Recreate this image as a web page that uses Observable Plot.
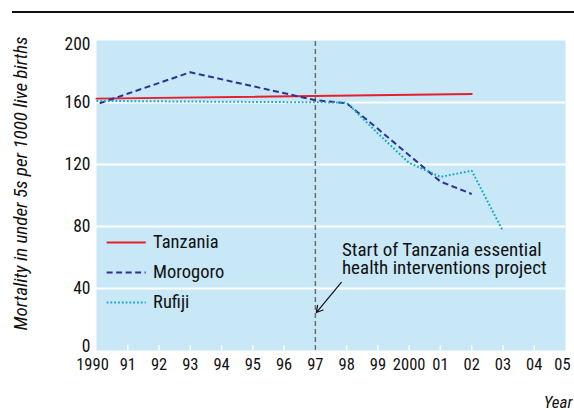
<!DOCTYPE html>
<html>
<head>
<meta charset="utf-8">
<script src="https://cdn.jsdelivr.net/npm/d3@7"></script>
<script src="https://cdn.jsdelivr.net/npm/@observablehq/plot@0.6"></script>
<style>
  html, body { margin: 0; padding: 0; background: #fff; }
  #wrap { position: relative; width: 574px; height: 410px; }
  #topline { position: absolute; left: 12px; top: 11px; width: 562px; height: 1.5px; background: #111; }
  svg, svg text { font-family: "Roboto Condensed", Roboto, sans-serif; font-stretch: condensed; }
</style>
</head>
<body>
<div id="wrap"><div id="topline"></div></div>
<script>
// Tick positions and labels
const years = [1990,1991,1992,1993,1994,1995,1996,1997,1998,1999,2000,2001,2002,2003,2004,2005];
const yearLabels = ["1990","91","92","93","94","95","96","97","98","99","2000","01","02","03","04","05"];
const yTicks = [0, 40, 80, 120, 160, 200];

// Series
const tanzaniaYears = [1990, 2002];
const tanzaniaValues = [162.5, 165.5];
const morogoroYears = [1990.1, 1993, 1997, 1998, 1999, 2000, 2001, 2002];
const morogoroValues = [159.5, 179.5, 161.5, 159.5, 143, 126, 109, 101];
const rufijiYears = [1990, 1998, 1999, 2000, 2001, 2002, 2003];
const rufijiValues = [161, 160, 140, 121, 112, 116, 77];

const projectStart = 1997;
const annotationText = "Start of Tanzania essential\nhealth interventions project";

const seriesNames = ["Tanzania", "Morogoro", "Rufiji"];
const seriesColors = ["#e4202c", "#2e3192", "#17a8c4"];
const seriesDash = [null, "6,3.5", "1.8,2"];

const toRows = (xs, vs) => xs.map((x, i) => ({x, v: vs[i]}));
const tanzania = toRows(tanzaniaYears, tanzaniaValues);
const morogoro = toRows(morogoroYears, morogoroValues);
const rufiji = toRows(rufijiYears, rufijiValues);

// legend rows (placed in data space inside the frame)
const legendY = [69.7, 50.3, 31];
const legend = seriesNames.map((name, i) => ({name, y: legendY[i], color: seriesColors[i], dash: seriesDash[i]}));

const font = "'Roboto Condensed', Roboto, sans-serif";
const fmtYear = (d) => yearLabels[years.indexOf(d)];
const tickFont = 16.5;

const chart = Plot.plot({
  width: 574,
  height: 410,
  marginLeft: 96,
  marginRight: 9,
  marginTop: 40,
  marginBottom: 60,
  style: {fontFamily: font, background: "transparent", overflow: "visible"},
  x: {domain: [1990, 2005]},
  y: {domain: [0, 200]},
  marks: [
    Plot.frame({fill: "#c8e8f8", stroke: null}),
    Plot.gridY(yTicks.filter(d => d > 0 && d < 200), {stroke: "#fff", strokeOpacity: 1, strokeWidth: 2}),
    Plot.ruleX(years.slice(1, -1), {y1: 0, y2: 3, stroke: "#fff", strokeWidth: 1.5}),
    // y axis labels (edge labels nudged inward as in the original)
    Plot.axisY({ticks: yTicks.slice(1, -1), tickSize: 0, tickPadding: 6, fontSize: tickFont + 1, label: null, fill: "#111"}),
    Plot.axisY({ticks: [yTicks[0]], tickSize: 0, tickPadding: 6, dy: -4, fontSize: tickFont + 1, label: null, fill: "#111"}),
    Plot.axisY({ticks: [yTicks[yTicks.length - 1]], tickSize: 0, tickPadding: 6, dy: 4, fontSize: tickFont + 1, label: null, fill: "#111"}),
    // x axis labels
    Plot.axisX({ticks: years.slice(1, -1), tickSize: 0, tickPadding: 8, fontSize: tickFont, label: null, fill: "#111", tickFormat: fmtYear}),
    Plot.axisX({ticks: [years[0]], tickSize: 0, tickPadding: 8, dx: -4, fontSize: tickFont, label: null, fill: "#111", tickFormat: fmtYear}),
    Plot.axisX({ticks: [years[years.length - 1]], tickSize: 0, tickPadding: 8, dx: -3, fontSize: tickFont, label: null, fill: "#111", tickFormat: fmtYear}),
    Plot.ruleX([projectStart], {y1: 0, y2: 200, stroke: "#6d6e71", strokeWidth: 1.5, strokeDasharray: "5,3"}),
    Plot.line(tanzania, {x: "x", y: "v", stroke: seriesColors[0], strokeWidth: 2}),
    Plot.line(morogoro, {x: "x", y: "v", stroke: seriesColors[1], strokeWidth: 2, strokeDasharray: seriesDash[1], strokeLinecap: "butt", strokeLinejoin: "miter"}),
    Plot.line(rufiji, {x: "x", y: "v", stroke: seriesColors[2], strokeWidth: 2, strokeDasharray: seriesDash[2], strokeLinecap: "butt", strokeLinejoin: "miter"}),
    // legend
    ...legend.map(l => Plot.ruleY([l], {x1: 1990.34, x2: 1991.59, y: "y", stroke: l.color, strokeWidth: 2, strokeDasharray: l.dash, strokeLinecap: "butt"})),
    Plot.text(legend, {x: 1991.81, y: "y", text: "name", textAnchor: "start", fontSize: 18.5, fill: "#111"}),
    // annotation
    Plot.text([annotationText], {x: 1997.85, y: 68.8, textAnchor: "start", lineAnchor: "top", lineHeight: 0.92, fontSize: 19, fill: "#111"}),
    Plot.arrow([{x1: 1997.83, y1: 43.9, x2: 1997.03, y2: 24.5}], {x1: "x1", y1: "y1", x2: "x2", y2: "y2", stroke: "#111", strokeWidth: 1.2, headLength: 9}),
    // axis titles
    Plot.text(["Mortality in under 5s per 1000 live births"], {frameAnchor: "left", rotate: -90, dx: -76, dy: -12, fontSize: 19, fontStyle: "italic", fill: "#111", textAnchor: "middle", lineAnchor: "middle"}),
    Plot.text(["Year"], {frameAnchor: "bottom-right", dx: 7, dy: 51.6, textAnchor: "end", lineAnchor: "middle", fontSize: 17, fontStyle: "italic", fill: "#111"})
  ]
});
document.getElementById("wrap").appendChild(chart);
</script>
</body>
</html>
